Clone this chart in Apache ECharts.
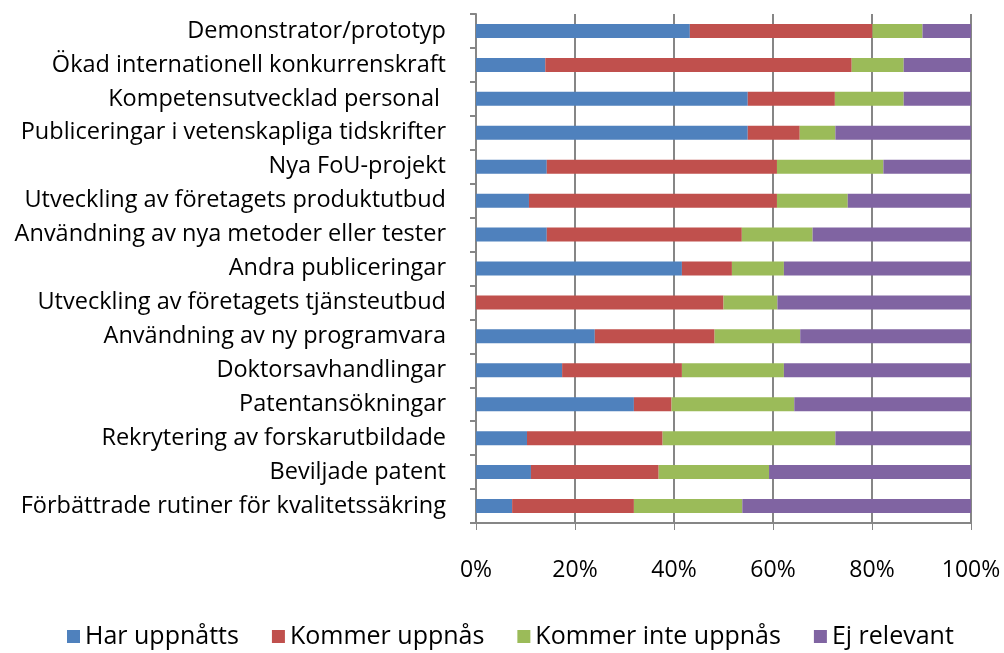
<!DOCTYPE html>
<html>
<head>
<meta charset="utf-8">
<script src="https://cdn.jsdelivr.net/npm/echarts@6/dist/echarts.min.js"></script>
<style>
html, body { margin: 0; padding: 0; background: #fff; }
#chart { width: 1004px; height: 653px; }
</style>
</head>
<body>
<div id="chart"></div>
<script>
var categories = [
    'Demonstrator/prototyp',
    'Ökad internationell konkurrenskraft',
    'Kompetensutvecklad personal ',
    'Publiceringar i vetenskapliga tidskrifter',
    'Nya FoU-projekt',
    'Utveckling av företagets produktutbud',
    'Användning av nya metoder eller tester',
    'Andra publiceringar',
    'Utveckling av företagets tjänsteutbud',
    'Användning av ny programvara',
    'Doktorsavhandlingar',
    'Patentansökningar',
    'Rekrytering av forskarutbildade',
    'Beviljade patent',
    'Förbättrade rutiner för kvalitetssäkring'
];
var seriesNames = ['Har uppnåtts', 'Kommer uppnås', 'Kommer inte uppnås', 'Ej relevant'];
var harUppnatts = [43.2, 14.0, 54.9, 54.9, 14.3, 10.7, 14.3, 41.6, 0, 24.0, 17.4, 31.9, 10.3, 11.1, 7.3];
var kommerUppnas = [36.9, 61.9, 17.6, 10.5, 46.5, 50.1, 39.4, 10.1, 50.0, 24.2, 24.2, 7.6, 27.4, 25.8, 24.6];
var kommerInteUppnas = [10.1, 10.5, 13.9, 7.2, 21.5, 14.3, 14.3, 10.5, 10.9, 17.3, 20.6, 24.8, 34.9, 22.3, 21.9];
var ejRelevant = [9.8, 13.6, 13.6, 27.4, 17.7, 24.9, 32.0, 37.8, 39.1, 34.5, 37.8, 35.7, 27.4, 40.8, 46.2];
var xTicks = [0, 20, 40, 60, 80, 100];

var colors = ['#4F81BD', '#C0504D', '#9BBB59', '#8064A2'];
var font = 'Open Sans';

var chart = echarts.init(document.getElementById('chart'));

var allData = [harUppnatts, kommerUppnas, kommerInteUppnas, ejRelevant];
var series = allData.map(function (d, i) {
    return {
        name: seriesNames[i],
        type: 'bar',
        stack: 'total',
        barWidth: 14,
        data: d,
        itemStyle: { color: colors[i] }
    };
});

chart.setOption({
    animation: false,
    color: colors,
    grid: { left: 476, right: 33, top: 14, bottom: 130, containLabel: false },
    legend: {
        bottom: -1,
        left: 62,
        itemWidth: 13,
        itemHeight: 13,
        itemGap: 33,
        icon: 'rect',
        textStyle: { fontFamily: font, fontSize: 25, color: '#000' },
        data: seriesNames
    },
    xAxis: {
        type: 'value',
        min: 0,
        max: 100,
        interval: 20,
        axisLine: { show: true, lineStyle: { color: '#868686', width: 2 } },
        axisTick: { show: true, length: 7, lineStyle: { color: '#868686', width: 1 } },
        splitLine: { show: true, lineStyle: { color: '#868686', width: 2 } },
        axisLabel: {
            margin: 36,
            fontFamily: font,
            fontSize: 23,
            color: '#000',
            formatter: function (v) { return xTicks.indexOf(v) >= 0 ? v + '%' : ''; }
        }
    },
    yAxis: {
        type: 'category',
        inverse: true,
        data: categories,
        axisLine: { show: true, lineStyle: { color: '#868686', width: 2 } },
        axisTick: { show: true, length: 6, alignWithLabel: false, lineStyle: { color: '#868686', width: 2 } },
        axisLabel: { margin: 30, fontFamily: font, fontSize: 23.5, color: '#000' }
    },
    series: series
});
</script>
</body>
</html>
